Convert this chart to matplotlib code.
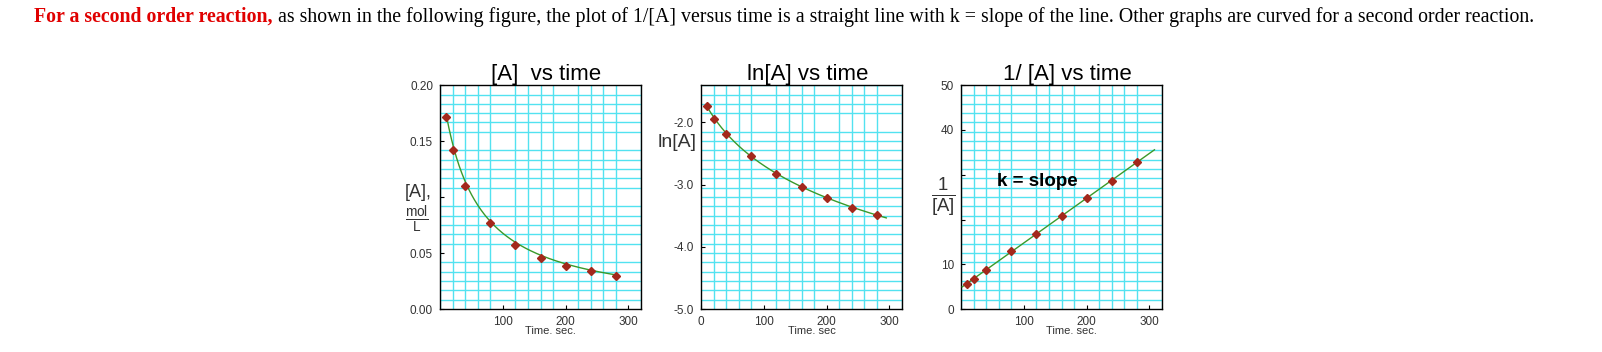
import numpy as np
import matplotlib
matplotlib.use("Agg")
import matplotlib.pyplot as plt

plt.rcParams["font.family"] = ["Liberation Sans", "DejaVu Sans"]
plt.rcParams["mathtext.fontset"] = "custom"
plt.rcParams["mathtext.rm"] = "Liberation Sans"

# values
time_s = [10, 20, 40, 80, 120, 160, 200, 240, 280]
conc = [0.172, 0.142, 0.110, 0.0765, 0.057, 0.046, 0.0384, 0.034, 0.0298]
ln_conc = [-1.74, -1.95, -2.18, -2.54, -2.83, -3.03, -3.22, -3.37, -3.49]
inv_conc = [5.7, 6.8, 8.8, 12.9, 16.7, 20.7, 24.7, 28.7, 32.9]

titles = ["[A]  vs time", "ln[A] vs time", "1/ [A] vs time"]
xlabels = ["Time. sec.", "Time. sec", "Time. sec."]
xticks = [[100, 200, 300], [0, 100, 200, 300], [100, 200, 300]]
yticks = [[0.0, 0.05, 0.10, 0.15, 0.20], [-5.0, -4.0, -3.0, -2.0], [0, 10, 20, 30, 40, 50]]
yticklabels = [["0.00", "0.05", "", "0.15", "0.20"], ["-5.0", "-4.0", "-3.0", "-2.0"],
               ["0", "10", "", "", "40", "50"]]
ylims = [(0.0, 0.20), (-5.0, -1.4), (0, 50)]
curve_spans = [(10, 280), (10, 295), (2, 308)]

GRID = "#52e2f0"
LINE = "#3a9a2a"
MARK = "#a3281c"

fig = plt.figure(figsize=(16.02, 3.52), dpi=100)
lefts = [440 / 1602, 701 / 1602, 961 / 1602]
axes = [fig.add_axes([l, 0.122, 201 / 1602, 0.636]) for l in lefts]

# second-order fit: 1/[A] = a + b t
b, a = np.polyfit(time_s, inv_conc, 1)

series = [conc, ln_conc, inv_conc]
for i, ax in enumerate(axes):
    t = np.linspace(*curve_spans[i], 200)
    fit = a + b * t
    curve = [1.0 / fit, np.log(1.0 / fit), fit][i]
    ax.plot(t, curve, color=LINE, lw=1.0, zorder=3)
    ax.plot(time_s, series[i], ls="none", marker="D", ms=3.6, color=MARK, zorder=4)

    ax.set_xlim(0, 320)
    ax.set_ylim(*ylims[i])
    ax.set_xticks(xticks[i])
    ax.set_yticks(yticks[i])
    ax.set_yticklabels(yticklabels[i])
    ax.set_xticks(np.linspace(0, 320, 17), minor=True)
    ax.set_yticks(np.linspace(*ylims[i], 25), minor=True)
    ax.grid(which="minor", color=GRID, lw=1.0)
    ax.grid(which="major", visible=False)
    ax.set_axisbelow(True)
    ax.tick_params(which="major", direction="in", length=3, labelsize=8.5,
                   labelcolor="#333333", pad=5)
    ax.tick_params(which="minor", length=0)
    for s in ax.spines.values():
        s.set_linewidth(1.0)
    ax.set_title(titles[i], fontsize=16, pad=4, x=0.53)
    ax.set_xlabel(xlabels[i], fontsize=8, color="#333333", labelpad=-1)
    ax.xaxis.set_label_coords(0.55, -0.075)

# axis labels written where the tick labels would be
axes[0].text(-0.04, 0.52, "[A],", transform=axes[0].transAxes, fontsize=13,
             ha="right", va="center", color="#333333")
axes[0].text(-0.115, 0.40, r"$\frac{\mathrm{mol}}{\mathrm{L}}$", transform=axes[0].transAxes,
             fontsize=14, ha="center", va="center", color="#333333")
axes[1].text(-0.02, 0.745, "ln[A]", transform=axes[1].transAxes, fontsize=14,
             ha="right", va="center", color="#333333")
axes[2].text(-0.09, 0.50, r"$\frac{1}{[\mathrm{A}]}$", transform=axes[2].transAxes,
             fontsize=19, ha="center", va="center", color="#333333")
axes[2].text(0.18, 0.57, "k = slope", transform=axes[2].transAxes, fontsize=13.5,
             fontweight="bold", ha="left", va="center")

# header sentence
red = fig.text(34 / 1602, 1 - 17 / 352, "For a second order reaction,", color="#e00000",
               fontweight="bold", fontsize=14.3, family="Liberation Serif", va="center")
fig.canvas.draw()
x_end = red.get_window_extent(fig.canvas.get_renderer()).x1
fig.text((x_end + 5) / 1602, 1 - 17 / 352,
         "as shown in the following figure, the plot of 1/[A] versus time is a straight line "
         "with k = slope of the line. Other graphs are curved for a second order reaction.",
         fontsize=14.3, family="Liberation Serif", va="center")

fig.savefig("out.png", dpi=100)
